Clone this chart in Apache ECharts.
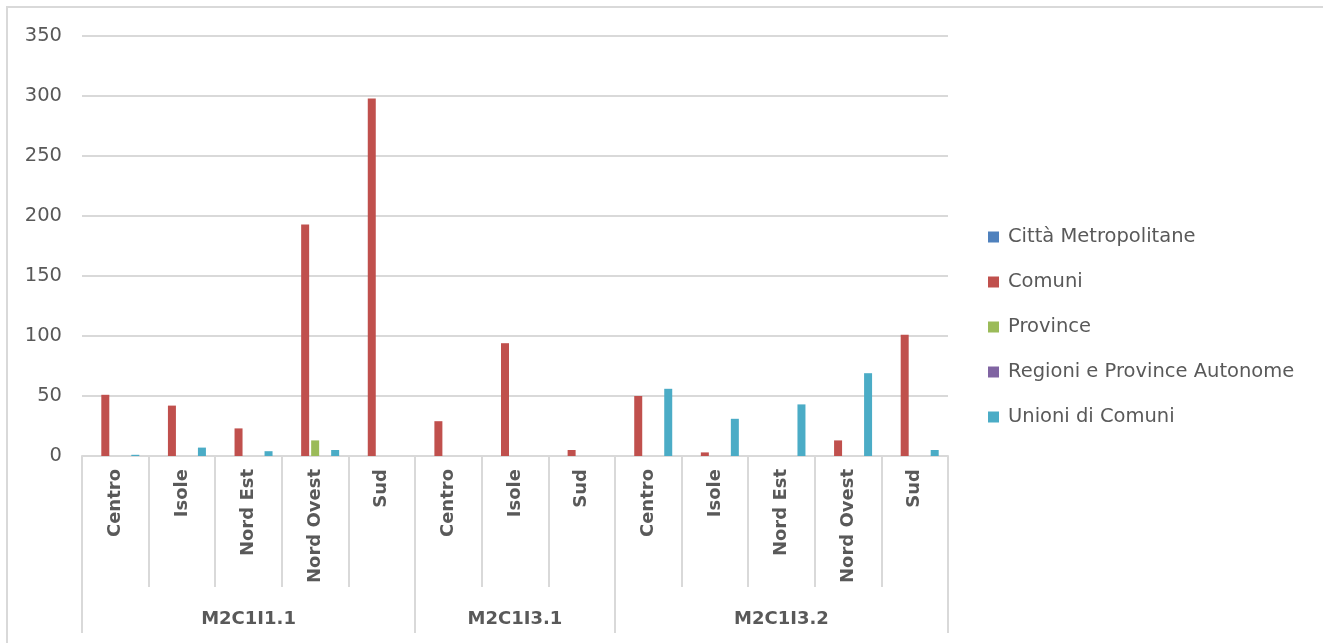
<!DOCTYPE html>
<html>
<head>
<meta charset="utf-8">
<script src="https://cdn.jsdelivr.net/npm/echarts@6/dist/echarts.min.js"></script>
<style>
  html, body { margin: 0; padding: 0; background: #fff; overflow: hidden; }
  #frame { position: absolute; left: 6px; top: 6px; width: 1400px; height: 700px; border: 2px solid #d9d9d9; }
  #main { position: absolute; left: 0; top: 0; width: 1323px; height: 643px; }
</style>
</head>
<body>
<div id="frame"></div>
<div id="main"></div>
<script>
// categorie (regione) e gruppi (investimento)
var subcats = ['Centro', 'Isole', 'Nord Est', 'Nord Ovest', 'Sud',
  'Centro', 'Isole', 'Sud',
  'Centro', 'Isole', 'Nord Est', 'Nord Ovest', 'Sud'];
var groups = ['M2C1I1.1', 'M2C1I3.1', 'M2C1I3.2'];
var groupSizes = [5, 3, 5];

var seriesNames = ['Città Metropolitane', 'Comuni', 'Province', 'Regioni e Province Autonome', 'Unioni di Comuni'];
var cittaMetro = [0, 0, 0, 0, 0, 0, 0, 0, 0, 0, 0, 0, 0];
var comuni = [51, 42, 23, 193, 298, 29, 94, 5, 50, 3, 0, 13, 101];
var province = [0, 0, 0, 13, 0, 0, 0, 0, 0, 0, 0, 0, 0];
var regioni = [0, 0, 0, 0, 0, 0, 0, 0, 0, 0, 0, 0, 0];
var unioni = [1, 7, 4, 5, 0, 0, 0, 0, 56, 31, 43, 69, 5];
var yTicks = [0, 50, 100, 150, 200, 250, 300, 350];

var colors = ['#4F81BD', '#C0504D', '#9BBB59', '#8064A2', '#4BACC6'];
var textColor = '#595959';
var lineColor = '#d9d9d9';
var font = 'DejaVu Sans';

// indici di inizio gruppo e indice centrale (per l'etichetta)
var groupStarts = [], groupCenters = {};
var pos = 0;
groupSizes.forEach(function (n, i) {
  groupStarts.push(pos);
  groupCenters[pos + Math.floor(n / 2)] = groups[i];
  pos += n;
});

var chart = echarts.init(document.getElementById('main'));

var gridBox = { left: 82, right: 375, top: 36, bottom: 187 };

var option = {
  color: colors,
  animation: false,
  textStyle: { fontFamily: font },
  grid: [
    Object.assign({}, gridBox),
    Object.assign({}, gridBox)
  ],
  legend: {
    orient: 'vertical',
    left: 988,
    top: 227,
    padding: 0,
    itemWidth: 11,
    itemHeight: 11,
    itemGap: 25,
    icon: 'rect',
    textStyle: { color: textColor, fontSize: 19.5, fontFamily: font, lineHeight: 20, padding: [0, 0, 0, 4] },
    data: seriesNames
  },
  xAxis: [
    {
      type: 'category',
      gridIndex: 0,
      data: subcats,
      axisLine: { show: true, lineStyle: { color: lineColor, width: 2 } },
      axisTick: { show: true, interval: 0, length: 131, lineStyle: { color: lineColor, width: 2 } },
      axisLabel: {
        interval: 0,
        rotate: 90,
        margin: 13,
        color: textColor,
        fontSize: 18,
        fontWeight: 'bold',
        fontFamily: font
      }
    },
    {
      type: 'category',
      gridIndex: 1,
      data: subcats,
      axisLine: { show: false },
      axisTick: {
        show: true,
        length: 177,
        interval: function (i) { return groupStarts.indexOf(i) >= 0; },
        lineStyle: { color: lineColor, width: 2 }
      },
      axisLabel: {
        interval: function (i) { return groupCenters[i] !== undefined; },
        formatter: function (v, i) { return groupCenters[i] || ''; },
        margin: 154,
        color: textColor,
        fontSize: 18,
        fontWeight: 'bold',
        fontFamily: font
      }
    }
  ],
  yAxis: [
    {
      type: 'value',
      gridIndex: 0,
      min: yTicks[0],
      max: yTicks[yTicks.length - 1],
      interval: 50,
      axisLine: { show: false },
      axisTick: { show: false },
      splitLine: { lineStyle: { color: lineColor, width: 2 } },
      axisLabel: { color: textColor, fontSize: 19.5, margin: 20, fontFamily: font }
    },
    {
      type: 'value',
      gridIndex: 1,
      min: 0,
      max: 350,
      show: false,
      splitLine: { show: false }
    }
  ],
  series: [cittaMetro, comuni, province, regioni, unioni].map(function (d, i) {
    return {
      name: seriesNames[i],
      type: 'bar',
      xAxisIndex: 0,
      yAxisIndex: 0,
      barWidth: 8,
      barGap: '25%',
      data: d
    };
  })
};

chart.setOption(option);
</script>
</body>
</html>
